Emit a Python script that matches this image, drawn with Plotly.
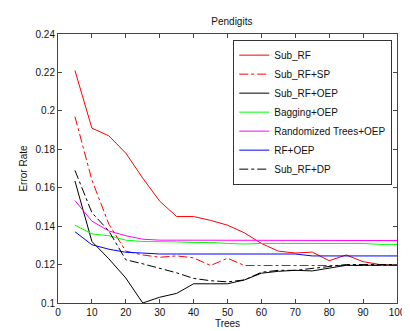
import plotly.graph_objects as go

trees = [5, 10, 15, 20, 25, 30, 35, 40, 45, 50, 55, 60, 65, 70, 75, 80, 85, 90, 95, 100]

sub_rf = [0.221, 0.191, 0.187, 0.178, 0.165, 0.153, 0.145, 0.145, 0.143, 0.1405,
          0.1365, 0.131, 0.127, 0.126, 0.1265, 0.122, 0.125, 0.1215, 0.120, 0.1195]
sub_rf_sp = [0.197, 0.164, 0.141, 0.127, 0.125, 0.1238, 0.1245, 0.1235, 0.1195, 0.1233,
             0.1195, 0.1195, 0.1195, 0.1195, 0.1195, 0.1195, 0.1195, 0.1195, 0.1195, 0.1195]
sub_rf_oep = [0.1635, 0.132, 0.123, 0.113, 0.100, 0.103, 0.105, 0.110, 0.110, 0.110,
              0.112, 0.1155, 0.1165, 0.117, 0.1167, 0.118, 0.1196, 0.1196, 0.1196, 0.1198]
bagging_oep = [0.1405, 0.136, 0.135, 0.1327, 0.132, 0.132, 0.1318, 0.1315, 0.1315, 0.131,
               0.1307, 0.131, 0.131, 0.131, 0.1307, 0.1307, 0.131, 0.131, 0.1305, 0.1305]
rand_trees_oep = [0.1533, 0.1426, 0.1375, 0.135, 0.1332, 0.1327, 0.1327, 0.1327, 0.1325, 0.1325,
                  0.1325, 0.1325, 0.1325, 0.1327, 0.1325, 0.1325, 0.1325, 0.1325, 0.1325, 0.1325]
rf_oep = [0.1371, 0.1303, 0.128, 0.1264, 0.126, 0.1255, 0.1255, 0.1255, 0.1255, 0.1255,
          0.1255, 0.1255, 0.1255, 0.1255, 0.1245, 0.1245, 0.1245, 0.1245, 0.1245, 0.1245]
sub_rf_dp = [0.169, 0.147, 0.1375, 0.1225, 0.1204, 0.118, 0.1157, 0.1128, 0.1116, 0.111,
             0.112, 0.116, 0.117, 0.117, 0.1179, 0.119, 0.120, 0.120, 0.120, 0.120]

series = [
    ("Sub_RF", sub_rf, "#ff0000", "solid"),
    ("Sub_RF+SP", sub_rf_sp, "#ff0000", "dashdot"),
    ("Sub_RF+OEP", sub_rf_oep, "#000000", "solid"),
    ("Bagging+OEP", bagging_oep, "#00ff00", "solid"),
    ("Randomized Trees+OEP", rand_trees_oep, "#ff00ff", "solid"),
    ("RF+OEP", rf_oep, "#0000ff", "solid"),
    ("Sub_RF+DP", sub_rf_dp, "#000000", "dashdot"),
]

fig = go.Figure()
for name, vals, color, dash in series:
    fig.add_trace(go.Scatter(
        x=trees, y=vals, mode='lines', name=name,
        line=dict(color=color, width=1, dash=dash),
    ))

axis_style = dict(
    showgrid=False, zeroline=False, showline=True, linecolor='#444', linewidth=1,
    mirror='ticks', ticks='inside', ticklen=4, tickcolor='#444',
    tickfont=dict(size=10, color='#111'),
)

fig.update_layout(
    width=410, height=331,
    paper_bgcolor='white', plot_bgcolor='white',
    font=dict(family="Liberation Sans, Arial, sans-serif", size=10, color='#111'),
    margin=dict(l=50, r=12, t=26, b=31),
    title=dict(text="Pendigits", x=0.546, xanchor='center', y=0.958, yanchor='middle',
               font=dict(size=10, color='#111')),
    xaxis=dict(range=[0, 100], tickvals=list(range(0, 101, 10)),
               title=dict(text="Trees", standoff=2, font=dict(size=10)), **axis_style),
    yaxis=dict(range=[0.1, 0.24], tickvals=[0.1, 0.12, 0.14, 0.16, 0.18, 0.2, 0.22, 0.24],
               ticktext=["0.1", "0.12", "0.14", "0.16", "0.18", "0.2", "0.22", "0.24"],
               title=dict(text="Error Rate", standoff=6, font=dict(size=10)), **axis_style),
    legend=dict(x=0.986, xanchor='right', y=0.979, yanchor='top',
                bgcolor='white', bordercolor='#333', borderwidth=1,
                font=dict(size=10, color='#111'), itemwidth=30,
                tracegroupgap=0),
    showlegend=True,
)

fig.write_html("out.html")
